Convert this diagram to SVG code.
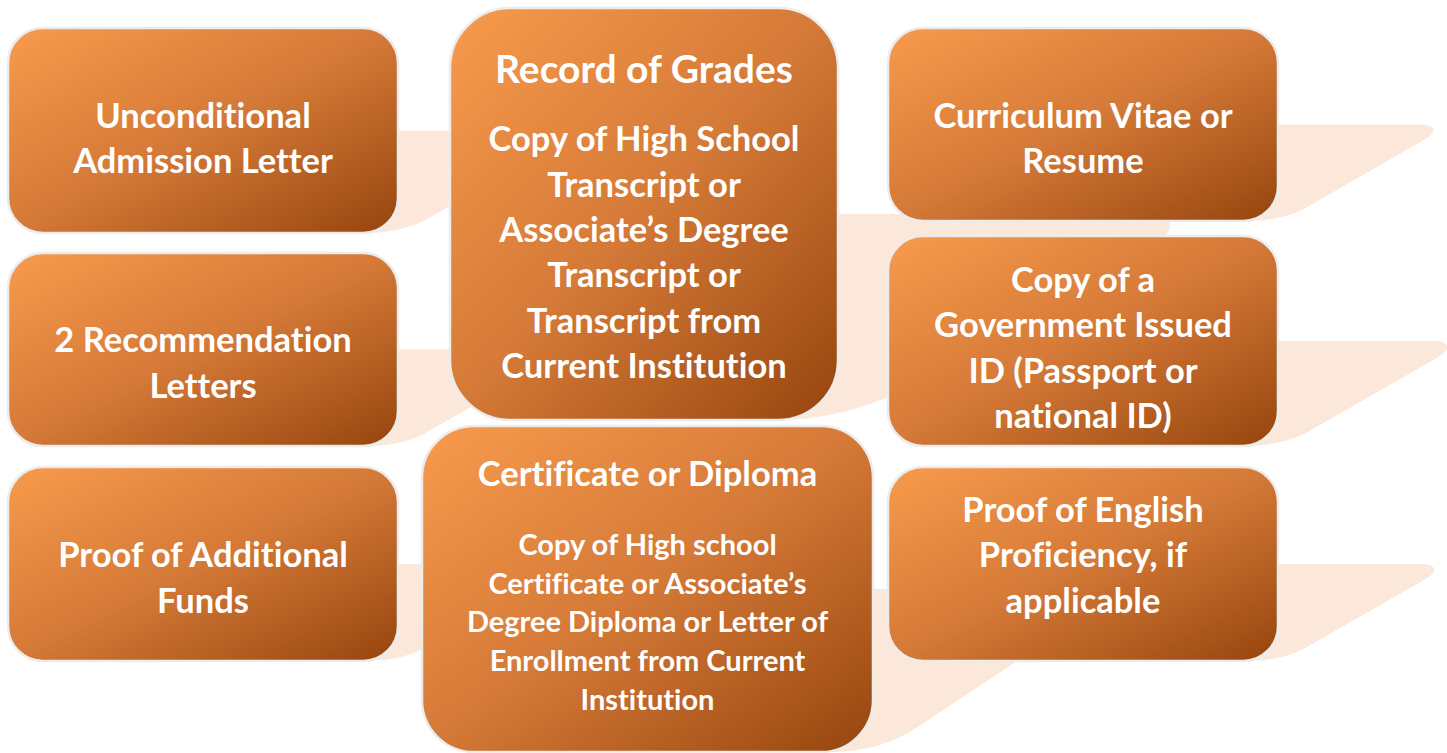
<svg xmlns="http://www.w3.org/2000/svg" xmlns:xlink="http://www.w3.org/1999/xlink" width="1447" height="753" viewBox="0 0 1447 753">
<style>
.box{fill:url(#g);stroke:#ECECEC;stroke-width:2.5}
.tail{fill:#FBE8DA}
text{font-family:Lato,"Open Sans","Liberation Sans",sans-serif;font-weight:bold;fill:#FFFFFF;text-anchor:middle;font-variant-ligatures:none;font-feature-settings:"liga" 0,"clig" 0}
.m{font-size:34.5px}
.t{font-size:39px}
.s{font-size:29px}
</style>
<defs>
<linearGradient id="g" x1="0" y1="0" x2="1" y2="1">
<stop offset="0" stop-color="#F89B4D"/>
<stop offset="0.5" stop-color="#D47937"/>
<stop offset="1" stop-color="#96450E"/>
</linearGradient>
<path id="tail" d="M -40 0 L 142 0 C 156 0 160 7 146 15 L 29 82 C 15 90 -5 96 -30 96 L -40 96 Z"/>
</defs>
<rect width="1447" height="753" fill="#FFFFFF"/>
<g id="connectors">
<use xlink:href="#tail" class="tail" transform="translate(398,130.5) scale(1.068)"/>
<use xlink:href="#tail" class="tail" transform="translate(398,349.5) scale(1.005)"/>
<use xlink:href="#tail" class="tail" transform="translate(398,564) scale(1.01)"/>
<use xlink:href="#tail" class="tail" transform="translate(838,214) scale(2.146)"/>
<use xlink:href="#tail" class="tail" transform="translate(873,589) scale(1.47,1.698)"/>
<use xlink:href="#tail" class="tail" transform="translate(1278,124.5) scale(1.005)"/>
<use xlink:href="#tail" class="tail" transform="translate(1278,341) scale(1.094)"/>
<use xlink:href="#tail" class="tail" transform="translate(1278,564) scale(1.01)"/>
</g>
<g id="node-admission">
<rect class="box" x="8" y="28" width="390" height="205" rx="35"/>
<text class="m" x="203" y="128">Unconditional</text>
<text class="m" x="203" y="173">Admission Letter</text>
</g>
<g id="node-recommendation">
<rect class="box" x="8" y="253" width="390" height="193" rx="35"/>
<text class="m" x="203" y="352">2 Recommendation</text>
<text class="m" x="203" y="398">Letters</text>
</g>
<g id="node-funds">
<rect class="box" x="8" y="467" width="390" height="194" rx="35"/>
<text class="m" x="203" y="567">Proof of Additional</text>
<text class="m" x="203" y="613">Funds</text>
</g>
<g id="node-grades">
<rect class="box" x="450" y="8" width="388" height="412" rx="60"/>
<text class="t" x="644" y="83">Record of Grades</text>
<text class="m" x="644" y="151">Copy of High School</text>
<text class="m" x="644" y="196.5">Transcript or</text>
<text class="m" x="644" y="242">Associate’s Degree</text>
<text class="m" x="644" y="287">Transcript or</text>
<text class="m" x="644" y="332.5">Transcript from</text>
<text class="m" x="644" y="378">Current Institution</text>
</g>
<g id="node-diploma">
<rect class="box" x="422" y="426" width="451" height="326" rx="52"/>
<text class="m" x="647.5" y="486">Certificate or Diploma</text>
<text class="s" x="647.5" y="555">Copy of High school</text>
<text class="s" x="647.5" y="593.5">Certificate or Associate’s</text>
<text class="s" x="647.5" y="632">Degree Diploma or Letter of</text>
<text class="s" x="647.5" y="671">Enrollment from Current</text>
<text class="s" x="647.5" y="710">Institution</text>
</g>
<g id="node-cv">
<rect class="box" x="888" y="28" width="390" height="193" rx="35"/>
<text class="m" x="1083" y="128">Curriculum Vitae or</text>
<text class="m" x="1083" y="173">Resume</text>
</g>
<g id="node-id">
<rect class="box" x="888" y="236" width="390" height="210" rx="35"/>
<text class="m" x="1083" y="292">Copy of a</text>
<text class="m" x="1083" y="337">Government Issued</text>
<text class="m" x="1083" y="383">ID (Passport or</text>
<text class="m" x="1083" y="428">national ID)</text>
</g>
<g id="node-english">
<rect class="box" x="888" y="467" width="390" height="194" rx="35"/>
<text class="m" x="1083" y="522">Proof of English</text>
<text class="m" x="1083" y="567">Proficiency, if</text>
<text class="m" x="1083" y="613">applicable</text>
</g>
</svg>
